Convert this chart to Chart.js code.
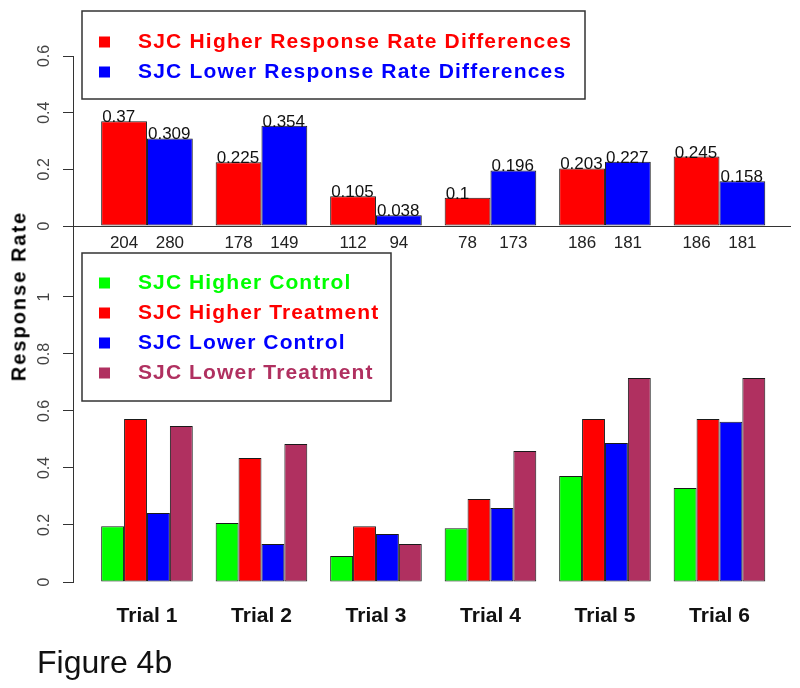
<!DOCTYPE html>
<html>
<head>
<meta charset="utf-8">
<script src="https://cdn.jsdelivr.net/npm/chart.js@4.4.1/dist/chart.umd.min.js"></script>
<style>
  html, body { margin: 0; padding: 0; background: #fff; }
  #wrap { position: relative; width: 800px; height: 688px; overflow: hidden; font-family: "Liberation Sans", Arial, sans-serif; }
  .layer { position: absolute; left: 0; top: 0; width: 800px; height: 688px; }
  #yTitle { position: absolute; left: 19px; top: 296px; transform: translate(-50%, -50%) rotate(-90deg); font-weight: bold; font-size: 20px; letter-spacing: 2px; white-space: nowrap; color: #000; }
  #figLabel { position: absolute; left: 37px; top: 646px; font-size: 32px; line-height: 32px; color: #111; white-space: nowrap; }
</style>
</head>
<body>
<div id="wrap">
  <div class="layer"><canvas id="diffChart"></canvas></div>
  <div class="layer"><canvas id="rateChart"></canvas></div>
  <div id="yTitle">Response Rate</div>
  <div id="figLabel">Figure 4b</div>
</div>
<script>
// Datos
const trials = ['Trial 1', 'Trial 2', 'Trial 3', 'Trial 4', 'Trial 5', 'Trial 6'];

const higherDiff = [0.37, 0.225, 0.105, 0.1, 0.203, 0.245];
const lowerDiff = [0.309, 0.354, 0.038, 0.196, 0.227, 0.158];
const higherN = [204, 178, 112, 78, 186, 186];
const lowerN = [280, 149, 94, 173, 181, 181];

const higherControl = [0.196, 0.207, 0.091, 0.189, 0.372, 0.33];
const higherTreatment = [0.572, 0.435, 0.196, 0.291, 0.572, 0.572];
const lowerControl = [0.242, 0.133, 0.168, 0.26, 0.488, 0.562];
const lowerTreatment = [0.547, 0.484, 0.133, 0.46, 0.716, 0.716];

const topTicks = [0, 0.2, 0.4, 0.6];
const bottomTicks = [0, 0.2, 0.4, 0.6, 0.8, 1];

const FONT = '"Liberation Sans", Arial, sans-serif';
const X_MIN = -0.646;
const X_MAX = 5.616;

const toPoints = (arr) => arr.map((v, i) => ({ x: i, y: v }));
const trialTicks = (scale) => { scale.ticks = trials.map((t, i) => ({ value: i })); };

// Leyenda con recuadro dibujada dentro del gráfico
const boxLegend = {
    id: 'boxLegend',
    afterDraw(chart, args, opts) {
        const ctx = chart.ctx;
        const b = opts.box;
        ctx.save();
        ctx.strokeStyle = '#333';
        ctx.lineWidth = 1.5;
        ctx.strokeRect(b.x, b.y, b.w, b.h);
        ctx.font = 'bold 21px ' + FONT;
        ctx.letterSpacing = opts.spacing;
        ctx.textBaseline = 'middle';
        ctx.textAlign = 'left';
        chart.data.datasets.forEach((ds, i) => {
            const y = b.y + opts.firstRow + i * opts.rowGap;
            ctx.fillStyle = ds.backgroundColor;
            ctx.fillRect(b.x + 17, y - 5.5, 11, 11);
            ctx.fillText(ds.label, b.x + 56, y);
        });
        ctx.letterSpacing = '0px';
        ctx.restore();
    }
};

// Etiquetas de valor encima de las barras y tamaños debajo
const barLabels = {
    id: 'barLabels',
    afterDatasetsDraw(chart) {
        const ctx = chart.ctx;
        ctx.save();
        ctx.font = '17px ' + FONT;
        chart.data.datasets.forEach((ds, di) => {
            const meta = chart.getDatasetMeta(di);
            meta.data.forEach((bar, i) => {
                ctx.fillStyle = '#111';
                ctx.textAlign = 'left';
                ctx.textBaseline = 'alphabetic';
                ctx.fillText(String(ds.data[i].y), bar.x - bar.width / 2 + 1, bar.y + 1);
                ctx.fillStyle = '#222';
                ctx.textAlign = 'center';
                ctx.textBaseline = 'middle';
                ctx.fillText(String(ds.counts[i]), bar.x, 243);
            });
        });
        ctx.restore();
    }
};

function yAxis(max, ticks) {
    return {
        min: 0,
        max: max,
        afterBuildTicks: (scale) => { scale.ticks = ticks.map(v => ({ value: v })); },
        afterFit: (scale) => { scale.width = 73; },
        border: { display: true, color: '#333', width: 1 },
        grid: { display: true, drawOnChartArea: false, drawTicks: true, tickLength: 10, color: '#333' },
        ticks: {
            minRotation: 90,
            maxRotation: 90,
            crossAlign: 'center',
            padding: 7,
            color: '#444',
            font: { family: FONT, size: 16 },
            callback: (v) => String(v)
        }
    };
}

const barStyle = { borderColor: '#1a1a1a', borderWidth: 1, borderSkipped: false };

new Chart(document.getElementById('diffChart'), {
    type: 'bar',
    data: {
        datasets: [
            { label: 'SJC Higher Response Rate Differences', data: toPoints(higherDiff), counts: higherN, backgroundColor: '#ff0000', ...barStyle },
            { label: 'SJC Lower Response Rate Differences', data: toPoints(lowerDiff), counts: lowerN, backgroundColor: '#0000ff', ...barStyle }
        ]
    },
    options: {
        responsive: true,
        maintainAspectRatio: false,
        animation: false,
        layout: { padding: { top: 56, bottom: 462, left: 0, right: 10 } },
        datasets: { bar: { categoryPercentage: 0.8, barPercentage: 1.0 } },
        scales: {
            x: {
                type: 'linear',
                min: X_MIN,
                max: X_MAX,
                offset: false,
                afterBuildTicks: trialTicks,
                afterFit: (scale) => { scale.height = 0; },
                border: { display: true, color: '#333', width: 1 },
                grid: { display: false, drawTicks: false },
                ticks: { display: false }
            },
            y: yAxis(0.6, topTicks)
        },
        plugins: {
            legend: { display: false },
            tooltip: { enabled: false },
            boxLegend: { box: { x: 82, y: 11, w: 503, h: 88 }, firstRow: 31, rowGap: 30, spacing: '1.2px' }
        }
    },
    plugins: [boxLegend, barLabels]
});

new Chart(document.getElementById('rateChart'), {
    type: 'bar',
    data: {
        datasets: [
            { label: 'SJC Higher Control', data: toPoints(higherControl), backgroundColor: '#00ff00', ...barStyle },
            { label: 'SJC Higher Treatment', data: toPoints(higherTreatment), backgroundColor: '#ff0000', ...barStyle },
            { label: 'SJC Lower Control', data: toPoints(lowerControl), backgroundColor: '#0000ff', ...barStyle },
            { label: 'SJC Lower Treatment', data: toPoints(lowerTreatment), backgroundColor: '#b03060', ...barStyle }
        ]
    },
    options: {
        responsive: true,
        maintainAspectRatio: false,
        animation: false,
        layout: { padding: { top: 226, bottom: 46, left: 0, right: 10 } },
        datasets: { bar: { categoryPercentage: 0.8, barPercentage: 1.0 } },
        scales: {
            x: {
                type: 'linear',
                min: X_MIN,
                max: X_MAX,
                offset: false,
                afterBuildTicks: trialTicks,
                afterFit: (scale) => { scale.height = 60; },
                border: { display: false },
                grid: { display: false, drawTicks: false },
                ticks: {
                    autoSkip: false,
                    maxRotation: 0,
                    padding: 22,
                    color: '#111',
                    font: { family: FONT, size: 21, weight: 'bold' },
                    callback: (v) => trials[v] ?? ''
                }
            },
            y: yAxis(1.249, bottomTicks)
        },
        plugins: {
            legend: { display: false },
            tooltip: { enabled: false },
            boxLegend: { box: { x: 82, y: 253, w: 309, h: 148 }, firstRow: 30, rowGap: 30, spacing: '1.1px' }
        }
    },
    plugins: [boxLegend]
});
</script>
</body>
</html>
